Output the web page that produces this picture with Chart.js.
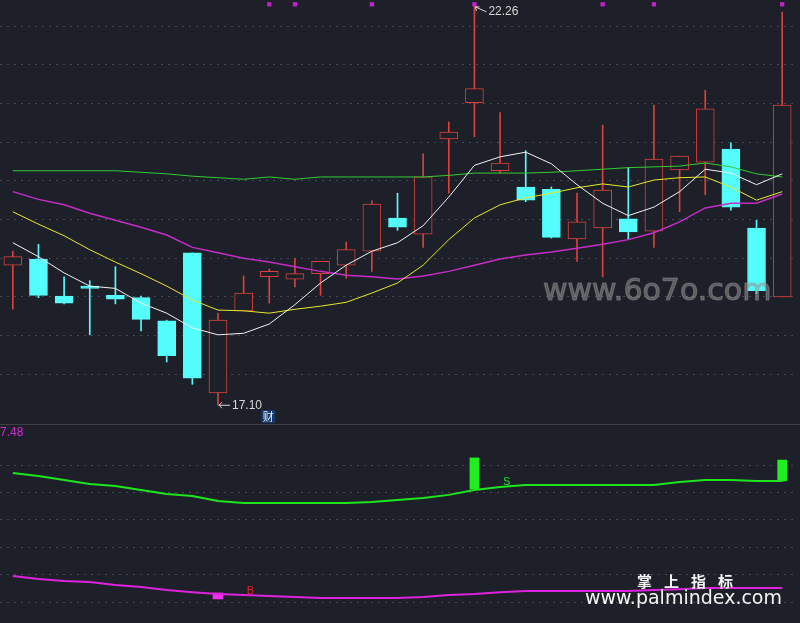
<!DOCTYPE html>
<html>
<head>
<meta charset="utf-8">
<script src="https://cdn.jsdelivr.net/npm/chart.js@4.4.0/dist/chart.umd.min.js"></script>
<style>
  html, body { margin: 0; padding: 0; background: #1d2028; }
  #wrap { position: relative; width: 800px; height: 623px; overflow: hidden; background: #1d2028; }
  #top { position: absolute; left: 0; top: 0; }
  #sep { position: absolute; left: 0; top: 424px; width: 800px; height: 1px; background: #3c3f48; }
  #bottom { position: absolute; left: 0; top: 425px; }
  .wm { position: absolute; white-space: nowrap; }
  #wm1 { left: 543px; top: 275px; font: 30px/30px "DejaVu Sans"; color: rgba(150,150,150,0.5); -webkit-text-stroke: 1.2px rgba(150,150,150,0.5); }
  #wm2 { left: 637px; top: 573px; font: bold 15px/16px "Noto Sans CJK SC"; color: #f4f4f4; letter-spacing: 12px; }
  #wm3 { left: 585px; top: 588px; font: 19px/19px "DejaVu Sans"; color: #f4f4f4; }
</style>
</head>
<body>
<div id="wrap">
  <canvas id="top" width="800" height="424"></canvas>
  <div id="sep"></div>
  <canvas id="bottom" width="800" height="198"></canvas>
  <div class="wm" id="wm1">www.6o7o.com</div>
  <div class="wm" id="wm2">掌上指标</div>
  <div class="wm" id="wm3">www.palmindex.com</div>
</div>
<script>
// one label per trading day
const days = Array.from({ length: 31 }, (_, i) => String(i + 1));

// candles
const open  = [18.91, 18.99, 18.51, 18.64, 18.52, 18.49, 18.19, 19.07, 17.26, 18.32, 18.76, 18.73, 18.80, 18.91, 19.09, 19.52, 19.31, 20.54, 21.01, 20.13, 19.92, 19.89, 19.25, 19.39, 19.51, 19.35, 20.14, 20.24, 20.41, 19.39, 18.50];
const close = [19.02, 18.52, 18.42, 18.61, 18.47, 18.21, 17.74, 17.45, 18.20, 18.55, 18.83, 18.80, 18.96, 19.11, 19.70, 19.40, 20.05, 20.63, 21.19, 20.23, 19.75, 19.27, 19.47, 19.88, 19.34, 20.28, 20.32, 20.93, 19.66, 18.58, 20.98];
const high  = [19.09, 19.18, 18.76, 18.71, 18.89, 18.51, 18.20, 19.07, 18.29, 18.77, 18.86, 19.00, 18.96, 19.21, 19.74, 19.84, 20.35, 20.76, 22.26, 20.88, 20.39, 19.92, 19.84, 20.72, 20.17, 20.98, 20.32, 21.17, 20.49, 19.49, 22.18];
const low   = [18.34, 18.49, 18.41, 18.01, 18.41, 18.06, 17.66, 17.37, 17.10, 18.32, 18.42, 18.63, 18.52, 18.74, 18.83, 19.36, 19.14, 19.84, 20.57, 20.10, 19.73, 19.26, 18.96, 18.76, 19.24, 19.14, 19.60, 19.82, 19.62, 18.54, 18.50];

// moving average lines
const maWhite   = [19.20, 19.02, 18.81, 18.64, 18.61, 18.42, 18.29, 18.10, 18.01, 18.03, 18.15, 18.40, 18.68, 18.91, 19.09, 19.20, 19.42, 19.79, 20.20, 20.31, 20.37, 20.22, 19.95, 19.71, 19.55, 19.66, 19.86, 20.15, 20.10, 19.95, 20.09];
const maYellow  = [19.60, 19.44, 19.29, 19.11, 18.95, 18.80, 18.64, 18.46, 18.33, 18.32, 18.29, 18.34, 18.38, 18.43, 18.55, 18.68, 18.91, 19.24, 19.52, 19.69, 19.78, 19.84, 19.91, 19.96, 19.92, 20.01, 20.04, 20.05, 19.92, 19.75, 19.86];
const maMagenta = [19.86, 19.76, 19.69, 19.58, 19.49, 19.40, 19.30, 19.14, 19.07, 19.00, 18.95, 18.89, 18.83, 18.78, 18.76, 18.73, 18.77, 18.83, 18.91, 18.99, 19.04, 19.08, 19.13, 19.18, 19.24, 19.33, 19.47, 19.65, 19.71, 19.71, 19.83];
const maGreen   = [20.13, 20.13, 20.13, 20.13, 20.13, 20.11, 20.09, 20.06, 20.04, 20.02, 20.05, 20.02, 20.05, 20.05, 20.05, 20.05, 20.05, 20.07, 20.10, 20.10, 20.10, 20.11, 20.13, 20.15, 20.17, 20.18, 20.19, 20.23, 20.18, 20.09, 20.05];

// small magenta marks along the top
const markIdx = [10, 11, 14, 18, 23, 25, 30];
const markLevel = 22.28;

// lower indicator panel
const subGreen   = [5.71, 5.60, 5.45, 5.31, 5.23, 5.09, 4.94, 4.87, 4.69, 4.61, 4.61, 4.61, 4.61, 4.61, 4.65, 4.72, 4.80, 4.91, 5.09, 5.20, 5.27, 5.27, 5.27, 5.27, 5.27, 5.27, 5.38, 5.45, 5.45, 5.42, 5.42];
const subMagenta = [1.95, 1.84, 1.77, 1.73, 1.62, 1.55, 1.44, 1.36, 1.29, 1.26, 1.22, 1.18, 1.15, 1.15, 1.15, 1.15, 1.18, 1.26, 1.29, 1.36, 1.40, 1.40, 1.40, 1.40, 1.40, 1.44, 1.47, 1.51, 1.51, 1.51, 1.51];
const spikeIdx  = [18, 30];
const spikeLow  = [5.12, 5.42];
const spikeHigh = [6.26, 6.18];
const buyIdx = 8;
const buyBar = [1.11, 1.33];
const subTopLabel = "7.48";

const BG = "#1d2028";
const RED = "#d8413c";
const CYAN = "#55fcfc";

const isUp = open.map((o, i) => close[i] >= o);
const gridOpts = { color: "#464a54", drawTicks: false, tickLength: 0 };
const halfStep = (axis) => {
  axis.ticks = axis.ticks.filter((t) => Math.abs(t.value * 2 - Math.round(t.value * 2)) < 1e-6 && t.value >= 17.49 && t.value <= 22.01);
};
const wholeStep = (axis) => {
  axis.ticks = axis.ticks.filter((t) => Math.abs(t.value - Math.round(t.value)) < 1e-6 && t.value >= 1 && t.value <= 6);
};

const upperNotes = {
  id: "upperNotes",
  afterDatasetsDraw(chart) {
    const { ctx, scales: { x, y } } = chart;
    ctx.save();
    ctx.font = '12px "Liberation Sans", Arial, sans-serif';
    ctx.fillStyle = "#d8d8d8";
    ctx.strokeStyle = "#d8d8d8";
    ctx.lineWidth = 1;
    ctx.textBaseline = "middle";

    // highest high
    const hi = high.indexOf(Math.max(...high));
    let px = x.getPixelForValue(hi), py = y.getPixelForValue(high[hi]);
    ctx.beginPath();
    ctx.moveTo(px + 1, py + 1); ctx.lineTo(px + 12, py + 6);
    ctx.moveTo(px + 1, py + 1); ctx.lineTo(px + 5, py + 1);
    ctx.moveTo(px + 1, py + 1); ctx.lineTo(px + 2, py + 5);
    ctx.stroke();
    ctx.fillText(high[hi].toFixed(2), px + 14, py + 6);

    // lowest low
    const lo = low.indexOf(Math.min(...low));
    px = x.getPixelForValue(lo); py = y.getPixelForValue(low[lo]);
    ctx.beginPath();
    ctx.moveTo(px + 1, py); ctx.lineTo(px + 12, py);
    ctx.moveTo(px + 1, py); ctx.lineTo(px + 4, py - 3);
    ctx.moveTo(px + 1, py); ctx.lineTo(px + 4, py + 3);
    ctx.stroke();
    ctx.fillText(low[lo].toFixed(2), px + 14, py);

    // finance tag
    const fx = x.getPixelForValue(10) - 8;
    ctx.fillStyle = "#15386a";
    ctx.fillRect(fx, 410, 14, 13);
    ctx.fillStyle = "#e8f0ff";
    ctx.font = '11px "Noto Sans CJK SC"';
    ctx.textAlign = "center";
    ctx.fillText("财", fx + 7, 416.5);
    ctx.restore();
  }
};

const lowerNotes = {
  id: "lowerNotes",
  afterDatasetsDraw(chart) {
    const { ctx, scales: { x, y } } = chart;
    ctx.save();
    ctx.textBaseline = "middle";
    ctx.font = '12px "Liberation Sans", Arial, sans-serif';
    ctx.fillStyle = "#d42ad4";
    ctx.fillText(subTopLabel, 0, 8);
    ctx.font = '11px "Liberation Sans", Arial, sans-serif';
    ctx.fillStyle = "#e02424";
    ctx.fillText("B", x.getPixelForValue(9) + 3, y.getPixelForValue(subMagenta[9]) - 4);
    ctx.fillStyle = "#22e022";
    ctx.fillText("S", x.getPixelForValue(19) + 3, y.getPixelForValue(subGreen[19]) - 5);
    ctx.restore();
  }
};

// no auto padding, so the day slots fill x = 0..795
const layoutOpts = { autoPadding: false, padding: { left: 0, right: 5, top: 0, bottom: 0 } };

new Chart(document.getElementById("top"), {
  type: "bar",
  data: {
    labels: days,
    datasets: [
      {
        type: "line", data: days.map((_, i) => (markIdx.includes(i) ? markLevel : null)),
        showLine: false, pointStyle: "rect", pointRadius: 3, pointBackgroundColor: "#c81fd4",
        pointBorderWidth: 0, order: 0
      },
      { type: "line", data: maWhite, borderColor: "#f2f2f2", borderWidth: 1, pointRadius: 0, order: 1 },
      { type: "line", data: maYellow, borderColor: "#e8e82a", borderWidth: 1, pointRadius: 0, order: 2 },
      { type: "line", data: maMagenta, borderColor: "#c62cc6", borderWidth: 1.5, pointRadius: 0, order: 3 },
      { type: "line", data: maGreen, borderColor: "#34cc34", borderWidth: 1, pointRadius: 0, order: 4 },
      {
        data: open.map((o, i) => [o, close[i]]),
        backgroundColor: isUp.map((u) => (u ? BG : CYAN)),
        borderColor: isUp.map((u) => (u ? RED : CYAN)),
        borderWidth: 1, borderSkipped: false, barThickness: 18, grouped: false, order: 9
      },
      {
        data: low.map((l, i) => [l, high[i]]),
        backgroundColor: isUp.map((u) => (u ? RED : CYAN)),
        borderWidth: 0, barThickness: 1, grouped: false, order: 10
      }
    ]
  },
  options: {
    responsive: false,
    animation: false,
    events: [],
    layout: layoutOpts,
    plugins: { legend: { display: false }, tooltip: { enabled: false } },
    scales: {
      x: { type: "category", offset: true, display: false },
      y: {
        min: 16.858, max: 22.336,
        ticks: { display: false, stepSize: 0.5 },
        afterBuildTicks: halfStep,
        grid: gridOpts,
        border: { display: false, dash: [2, 5] }
      }
    }
  },
  plugins: [upperNotes]
});

new Chart(document.getElementById("bottom"), {
  type: "bar",
  data: {
    labels: days,
    datasets: [
      { type: "line", data: subGreen, borderColor: "#1ee61e", borderWidth: 2, pointRadius: 0, order: 1 },
      { type: "line", data: subMagenta, borderColor: "#de22de", borderWidth: 2, pointRadius: 0, order: 2 },
      {
        data: days.map((_, i) => { const k = spikeIdx.indexOf(i); return k < 0 ? null : [spikeLow[k], spikeHigh[k]]; }),
        backgroundColor: "#1ef01e", borderWidth: 0, barThickness: 9, grouped: false, order: 3
      },
      {
        data: days.map((_, i) => (i === buyIdx ? buyBar : null)),
        backgroundColor: "#f030f0", borderWidth: 0, barThickness: 10, grouped: false, order: 4
      }
    ]
  },
  options: {
    responsive: false,
    animation: false,
    events: [],
    layout: layoutOpts,
    plugins: { legend: { display: false }, tooltip: { enabled: false } },
    scales: {
      x: { type: "category", offset: true, display: false },
      y: {
        min: 0.234, max: 7.46,
        ticks: { display: false, stepSize: 1 },
        afterBuildTicks: wholeStep,
        grid: gridOpts,
        border: { display: false, dash: [2, 5] }
      }
    }
  },
  plugins: [lowerNotes]
});
</script>
</body>
</html>
